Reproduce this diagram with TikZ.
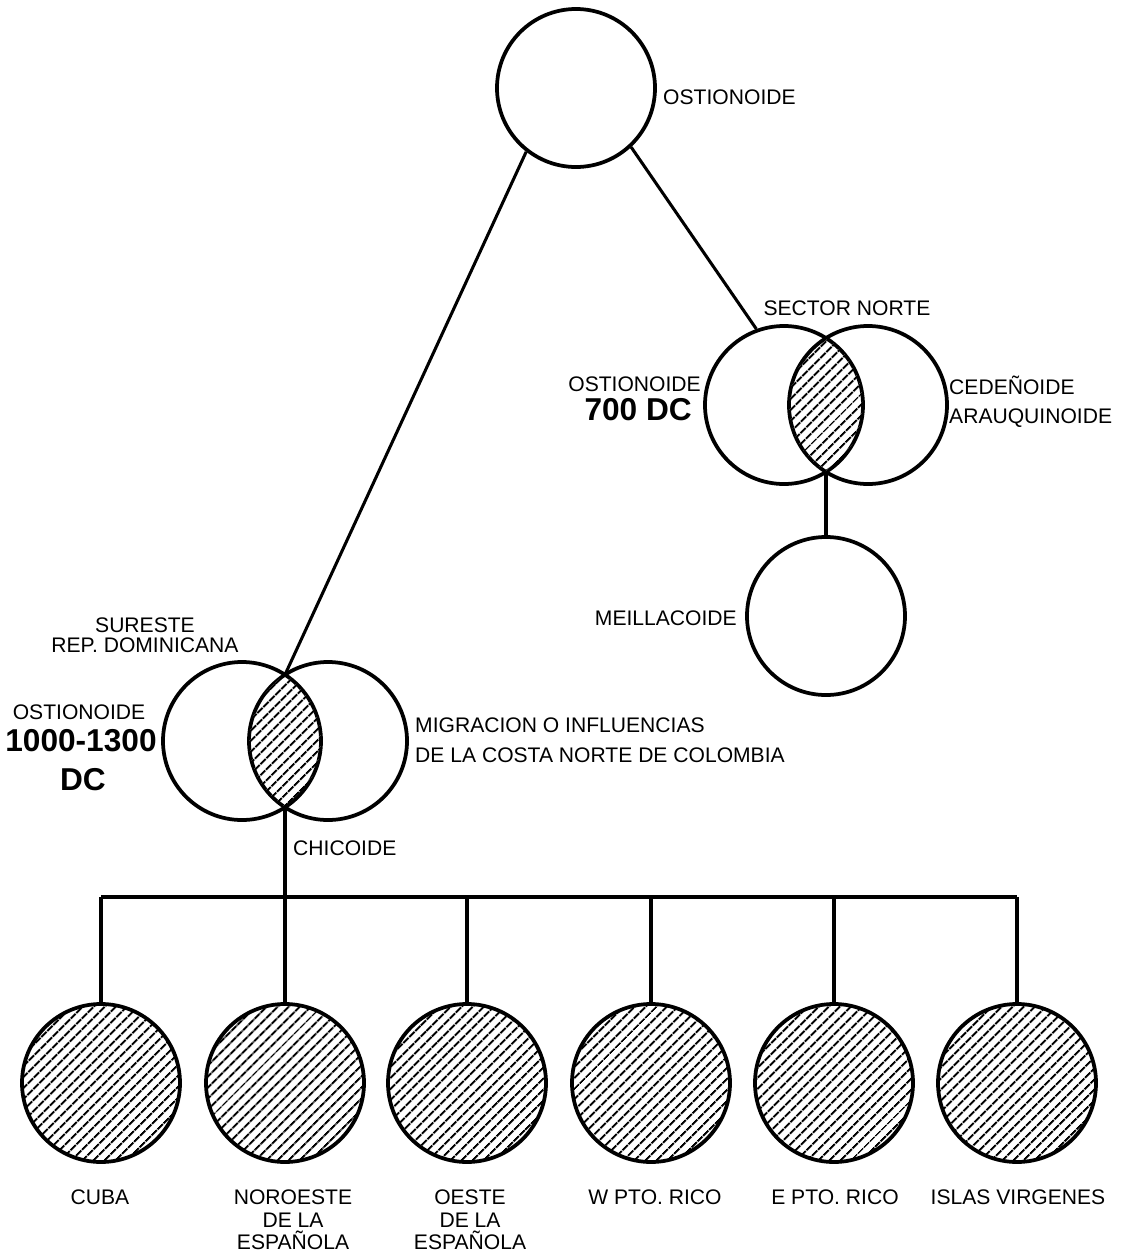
\documentclass[tikz,border=0pt]{standalone}
\usepackage{fontspec}
\setmainfont{Liberation Sans}
\usetikzlibrary{positioning, patterns.meta}

\begin{document}
\begin{tikzpicture}[
    x=0.03cm, y=-0.03cm,
    ring/.style={
      draw,
      circle,
      line width=3.2pt,
      minimum size=4.74cm,
      inner sep=0pt
    },
    hatched/.style={
      pattern={Lines[angle=45, distance=7.4pt, line width=2pt]}
    },
    link/.style={
      line width=2.6pt
    },
    lab/.style={
      inner sep=0pt,
      font=\fontsize{18}{20}\selectfont
    },
    big/.style={
      inner sep=0pt,
      font=\fontsize{27}{30}\selectfont\bfseries
    }
]

% Frame
\fill[white] (0,0) rectangle (1121,1255);
\useasboundingbox (0,0) rectangle (1121,1255);

% Top: Ostionoide
\node (top) [ring] at (576,88) {};
\node (lTop) [lab, anchor=west] at (663,97) {OSTIONOIDE};

% Sector norte
\node (nl) [ring] at (784,405) {};
\node (nr) [ring] at (868,405) {};
\begin{scope}
  \clip (nl.center) circle (2.37cm);
  \fill[hatched] (nr.center) circle (2.37cm);
\end{scope}
\coordinate (nLensBot) at (826,471.9);
\node (lNorte) [lab] at (847,308) {SECTOR NORTE};
\node (lOst700) [lab, anchor=east] at (701,384) {OSTIONOIDE};
\node (l700) [big, anchor=east] at (692,410) {700 DC};
\node (lCed) [lab, anchor=west, align=left, font=\fontsize{18}{24.7}\selectfont] at (949,402) {CEDEÑOIDE\\ARAUQUINOIDE};
\draw [link] (top.-47) -- (nl.110);

% Meillacoide
\node (meill) [ring] at (826,616) {};
\node (lMeill) [lab, anchor=east] at (737,618) {MEILLACOIDE};
\draw [link] (nLensBot) -- (meill.north);

% Sureste Rep. Dominicana
\node (sl) [ring] at (242,741) {};
\node (sr) [ring] at (328,741) {};
\begin{scope}
  \clip (sl.center) circle (2.37cm);
  \fill[hatched] (sr.center) circle (2.37cm);
\end{scope}
\coordinate (sLensTop) at (285,674.7);
\coordinate (sLensBot) at (285,807.3);
\node (lSur) [lab, align=center, font=\fontsize{18}{17.5}\selectfont] at (145,635) {SURESTE\\REP. DOMINICANA};
\node (lOst1000) [lab] at (79,712) {OSTIONOIDE};
\node (l1000) [big] at (81,741) {1000-1300};
\node (lDC) [big] at (83,780) {DC};
\node (lMig) [lab, anchor=west, align=left, font=\fontsize{18}{25.6}\selectfont] at (415,740) {MIGRACION O INFLUENCIAS\\DE LA COSTA NORTE DE COLOMBIA};
\node (lChic) [lab, anchor=west] at (293,848) {CHICOIDE};
\draw [link] (top.-128) -- (sLensTop);

% Chicoide areas
\node (b1) [ring, hatched] at (101,1083) {};
\node (b2) [ring, hatched] at (285,1083) {};
\node (b3) [ring, hatched] at (467,1083) {};
\node (b4) [ring, hatched] at (651,1083) {};
\node (b5) [ring, hatched] at (834,1083) {};
\node (b6) [ring, hatched] at (1017,1083) {};
\coordinate (bar) at (285,897);
\draw [link] (sLensBot) -- (bar);
\draw [link] (b1.north |- bar) -- (b6.north |- bar);
\draw [link] (b1.north |- bar) -- (b1.north);
\draw [link] (b2.north |- bar) -- (b2.north);
\draw [link] (b3.north |- bar) -- (b3.north);
\draw [link] (b4.north |- bar) -- (b4.north);
\draw [link] (b5.north |- bar) -- (b5.north);
\draw [link] (b6.north |- bar) -- (b6.north);

% Area labels
\node (lCuba) [lab, anchor=north] at (100,1190) {CUBA};
\node (lNoro) [lab, anchor=north, align=center, font=\fontsize{18}{19.2}\selectfont] at (293,1190) {NOROESTE\\DE LA\\ESPAÑOLA};
\node (lOeste) [lab, anchor=north, align=center, font=\fontsize{18}{19.2}\selectfont] at (470,1190) {OESTE\\DE LA\\ESPAÑOLA};
\node (lWpr) [lab, anchor=north] at (655,1190) {W PTO. RICO};
\node (lEpr) [lab, anchor=north] at (835,1190) {E PTO. RICO};
\node (lIslas) [lab, anchor=north] at (1018,1190) {ISLAS VIRGENES};

\end{tikzpicture}
\end{document}
